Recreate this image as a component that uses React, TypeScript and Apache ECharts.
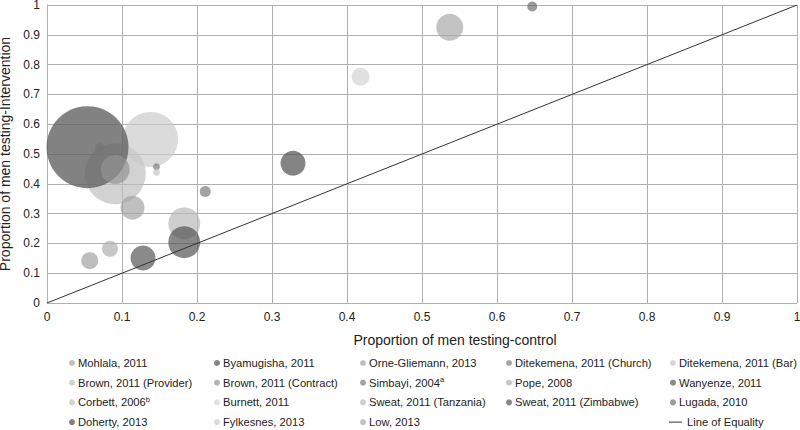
import React, { useEffect, useRef } from "react";
import * as echarts from "echarts";

// Studies (drawing order)
const studies = [
  "Corbett, 2006",
  "Brown, 2011 (Provider)",
  "Fylkesnes, 2013",
  "Doherty, 2013",
  "Brown, 2011 (Contract)",
  "Ditekemena, 2011 (Church)",
  "Ditekemena, 2011 (Bar)",
  "Orne-Gliemann, 2013",
  "Simbayi, 2004",
  "Sweat, 2011 (Tanzania)",
  "Sweat, 2011 (Zimbabwe)",
  "Pope, 2008",
  "Mohlala, 2011",
  "Wanyenze, 2011",
  "Byamugisha, 2011",
  "Low, 2013",
  "Lugada, 2010",
  "Burnett, 2011",
];
// Proportion of men testing - control arm
const controlProp = [0.07, 0.091, 0.138, 0.054, 0.091, 0.146, 0.146, 0.114, 0.211, 0.183, 0.183, 0.084, 0.057, 0.128, 0.328, 0.537, 0.647, 0.418];
// Proportion of men testing - intervention arm
const interventionProp = [0.52, 0.434, 0.549, 0.523, 0.448, 0.457, 0.439, 0.32, 0.374, 0.267, 0.204, 0.182, 0.142, 0.151, 0.469, 0.925, 0.995, 0.759];
// Relative bubble weight (study size)
const bubbleWeight = [10, 61, 55, 82, 29, 7, 7, 24, 11, 32, 32, 16, 17, 25, 25, 27, 10, 18];
// Grey shade shown on white
const shades = [200, 198, 210, 99, 162, 142, 204, 176, 140, 194, 106, 185, 173, 108, 101, 180, 128, 218];
const opaqueStudy = "Doherty, 2013";

// Legend columns
const legendCols = [
  ["Mohlala, 2011", "Brown, 2011 (Provider)", "Corbett, 2006", "Doherty, 2013"],
  ["Byamugisha, 2011", "Brown, 2011 (Contract)", "Burnett, 2011", "Fylkesnes, 2013"],
  ["Orne-Gliemann, 2013", "Simbayi, 2004", "Sweat, 2011 (Tanzania)", "Low, 2013"],
  ["Ditekemena, 2011 (Church)", "Pope, 2008", "Sweat, 2011 (Zimbabwe)"],
  ["Ditekemena, 2011 (Bar)", "Wanyenze, 2011", "Lugada, 2010"],
];
const legendIconCenter = [72, 217, 363, 509, 673];
const superscripts: Record<string, string> = { "Simbayi, 2004": "a", "Corbett, 2006": "b" };

const equalityName = "Line of Equality";
const axisTicks = [0, 1, 0.1];

const FONT = "'Liberation Sans', Arial, sans-serif";
const ROW_TOP = 356;
const ROW_STEP = 19.7;

function rgbaFor(d: number, a: number) {
  const c = Math.max(0, Math.round((d - 255 * (1 - a)) / a));
  return `rgba(${c},${c},${c},${a})`;
}

export default function App() {
  const ref = useRef<HTMLDivElement>(null);
  useEffect(() => {
    if (!ref.current) return;
    const chart = echarts.init(ref.current, null, { renderer: "svg" });
    const series: any[] = studies.map((name, i) => ({
      type: "scatter",
      name,
      symbol: "circle",
      symbolSize: (v: number[]) => v[2],
      data: [[controlProp[i], interventionProp[i], bubbleWeight[i]]],
      itemStyle: { color: rgbaFor(shades[i], name === opaqueStudy ? 1 : 0.85) },
      emphasis: { disabled: true },
      z: 3,
    }));
    series.push({
      type: "line",
      name: equalityName,
      data: [
        [axisTicks[0], axisTicks[0]],
        [axisTicks[1], axisTicks[1]],
      ],
      symbol: "none",
      lineStyle: { color: "#333", width: 1 },
      itemStyle: { color: "#333" },
      z: 4,
    });

    const legendText = {
      color: "#222",
      fontSize: 11.2,
      fontFamily: FONT,
      lineHeight: 14,
      padding: [0, 0, 0, -2],
      rich: {
        sup: { fontSize: 7.5, lineHeight: 14, verticalAlign: "top", color: "#222", fontFamily: FONT, padding: [0, 0, 3, 0] },
      },
    };
    const legends: any[] = legendCols.map((col, ci) => ({
      orient: "vertical",
      left: legendIconCenter[ci] - 3,
      top: ROW_TOP,
      padding: 0,
      itemWidth: 6,
      itemHeight: 14,
      itemGap: ROW_STEP - 14,
      icon: "circle",
      selectedMode: false,
      data: col,
      textStyle: legendText,
      formatter: (n: string) => (superscripts[n] ? `${n}{sup|${superscripts[n]}}` : n),
    }));
    legends.push({
      orient: "vertical",
      left: 669,
      top: ROW_TOP + 3 * ROW_STEP,
      padding: 0,
      itemWidth: 13,
      itemHeight: 1,
      selectedMode: false,
      data: [{ name: equalityName, icon: "rect" }],
      itemStyle: { color: "#333" },
      textStyle: { ...legendText, padding: [0, 0, 0, 0] },
    });

    const axisCommon = {
      type: "value",
      min: axisTicks[0],
      max: axisTicks[1],
      interval: axisTicks[2],
      nameLocation: "middle",
      axisLine: { show: true, lineStyle: { color: "#b0b0b0", width: 1 } },
      axisTick: { show: false },
      axisLabel: { color: "#222", fontSize: 12, fontFamily: FONT },
      splitLine: { show: true, lineStyle: { color: "#b0b0b0", width: 1 } },
    };

    chart.setOption({
      animation: false,
      textStyle: { fontFamily: FONT },
      grid: { left: 47, right: 3, top: 5, bottom: 127, containLabel: false, outerBoundsMode: "none" },
      xAxis: {
        ...axisCommon,
        name: "Proportion of men testing-control",
        nameGap: 30,
        nameTextStyle: { color: "#222", fontSize: 14, fontFamily: FONT, padding: [0, 0, 0, 66] },
        axisLabel: { ...axisCommon.axisLabel, margin: 8 },
      },
      yAxis: {
        ...axisCommon,
        name: "Proportion of men testing-Intervention",
        nameGap: 28,
        nameTextStyle: { color: "#222", fontSize: 14, fontFamily: FONT },
        axisLabel: { ...axisCommon.axisLabel, margin: 7 },
      },
      legend: legends,
      series,
    });
    return () => chart.dispose();
  }, []);
  return <div ref={ref} style={{ width: 800, height: 430, position: "absolute", left: 0, top: 0 }} />;
}
